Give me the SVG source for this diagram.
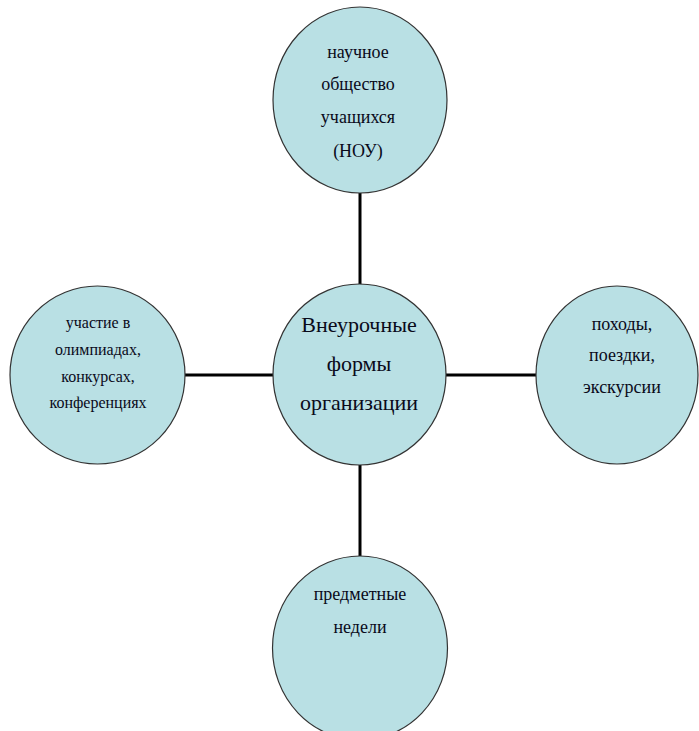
<svg xmlns="http://www.w3.org/2000/svg" width="699" height="731" viewBox="0 0 699 731">
<style>
.n{fill:#b9e0e4;stroke:#333;stroke-width:1.2}
.c{stroke:#000;stroke-width:3;fill:none}
text{font-family:'Liberation Serif','Times New Roman',serif;fill:#0a0a1a;text-anchor:middle}
.s{font-size:18px}
.m{font-size:16px}
.b{font-size:22px}
</style>
<rect width="699" height="731" fill="#fff"/>
<g id="connectors">
<line class="c" x1="360" y1="193" x2="360" y2="285"/>
<line class="c" x1="185" y1="375" x2="273" y2="375"/>
<line class="c" x1="446" y1="375" x2="536" y2="375"/>
<line class="c" x1="360" y1="465" x2="360" y2="556"/>
</g>
<g id="center">
<ellipse class="n" cx="359.5" cy="374.5" rx="86.5" ry="90.5"/>
<text class="b" x="359" y="332" font-family="Liberation Serif, serif">Внеурочные</text>
<text class="b" x="359" y="371" font-family="Liberation Serif, serif">формы</text>
<text class="b" x="359" y="410" font-family="Liberation Serif, serif">организации</text>
</g>
<g id="top">
<ellipse class="n" cx="360" cy="100" rx="87" ry="93"/>
<text class="s" x="358" y="58">научное</text>
<text class="s" x="358" y="90">общество</text>
<text class="s" x="358" y="123">учащихся</text>
<text class="s" x="358" y="157">(НОУ)</text>
</g>
<g id="left">
<ellipse class="n" cx="97.5" cy="375" rx="87.5" ry="89"/>
<text class="m" x="98" y="328">участие в</text>
<text class="m" x="98" y="355">олимпиадах,</text>
<text class="m" x="98" y="382">конкурсах,</text>
<text class="m" x="98" y="408">конференциях</text>
</g>
<g id="right">
<ellipse class="n" cx="617" cy="375" rx="81" ry="89"/>
<text class="s" x="622" y="330">походы,</text>
<text class="s" x="622" y="361">поездки,</text>
<text class="s" x="622" y="393">экскурсии</text>
</g>
<g id="bottom">
<ellipse class="n" cx="360" cy="648" rx="87.5" ry="92"/>
<text class="s" x="360" y="600">предметные</text>
<text class="s" x="360" y="633">недели</text>
</g>
</svg>
